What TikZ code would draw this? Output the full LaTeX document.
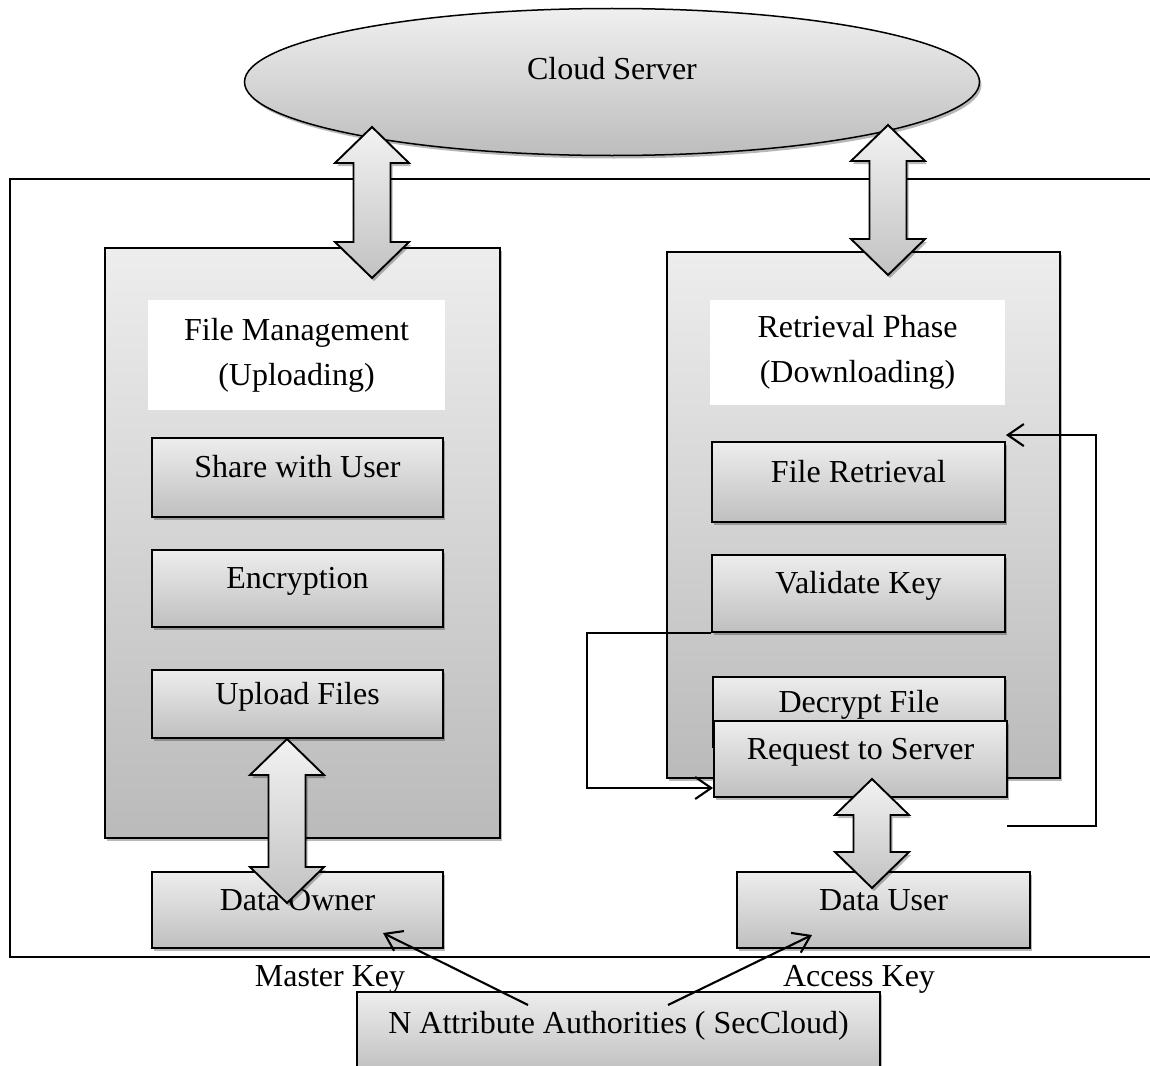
\documentclass[tikz,border=0pt]{standalone}
\usepackage{fontspec}
\setmainfont{Liberation Serif}
\usetikzlibrary{shadows,arrows.meta,shapes.geometric}
\tikzset{
  sh/.style={drop shadow={shadow xshift=2pt,shadow yshift=-3pt,opacity=0.28,fill=black}},
  bigbox/.style={draw=black, line width=1.9pt, top color=gray!14, bottom color=gray!54, sh, inner sep=0pt},
  box/.style={draw=black, line width=1.9pt, top color=gray!14, bottom color=gray!50, sh,
    text height=10pt, text depth=10pt, inner sep=0pt},
  wlabel/.style={fill=white, align=center, inner sep=0pt},
  dbl/.style={draw=black, line width=1.9pt, top color=gray!10, bottom color=gray!48, sh, line join=miter},
  conn/.style={draw=black, line width=2.1pt},
  barb/.style={-{Straight Barb[length=16pt,width=22pt]}},
  plain/.style={inner sep=0pt},
}
\newcommand{\dblarrShape}[3]{%
  \path[dbl] (#1,#2) -- (#1+37,#2+36) -- (#1+18.5,#2+36) -- (#1+18.5,#3-36) -- (#1+37,#3-36)
    -- (#1,#3) -- (#1-37,#3-36) -- (#1-18.5,#3-36) -- (#1-18.5,#2+36) -- (#1-37,#2+36) -- cycle;}
\begin{document}
\begin{tikzpicture}[x=1pt,y=-1pt,font=\fontsize{32pt}{45pt}\selectfont]
\useasboundingbox (0,0) rectangle (1150,1065);
\fill[white] (0,0) rectangle (1150,1065);

% outer frame
\draw[line width=2.4pt] (1175,179) -- (10,179) -- (10,957) -- (1175,957);

% cloud
\node[ellipse, draw=black, line width=1.5pt, minimum width=735pt, minimum height=147pt,
  top color=gray!12, bottom color=gray!52, sh] (cloud) at (612,82) {};
\node[plain] (cloudtxt) at (612,69) {Cloud Server};

% big boxes
\node[bigbox, minimum width=395pt, minimum height=590pt] (left) at (302.5,543) {};
\node[bigbox, minimum width=393pt, minimum height=526pt] (right) at (863.5,515) {};

\node[wlabel, minimum width=297pt, minimum height=110pt] (fm) at (296.5,355) {File Management\\(Uploading)};
\node[wlabel, minimum width=295pt, minimum height=105pt] (rp) at (857.5,352.5) {Retrieval Phase\\(Downloading)};

% left inner boxes
\node[box, minimum width=291pt, minimum height=79pt] (share) at (297.5,477.5) {Share with User};
\node[box, minimum width=291pt, minimum height=77pt] (enc) at (297.5,588.5) {Encryption};
\node[box, minimum width=291pt, minimum height=68pt] (upload) at (297.5,704) {Upload Files};

% right inner boxes
\node[box, minimum width=293pt, minimum height=80pt] (retr) at (858.5,482) {File Retrieval};
\node[box, minimum width=293pt, minimum height=77pt] (valid) at (858.5,593.5) {Validate Key};
\node[box, minimum width=292pt, minimum height=70pt] (decrypt) at (859,712) {Decrypt File};
\node[box, minimum width=293pt, minimum height=76pt] (request) at (860.5,759) {Request to Server};

% owner / user
\node[box, minimum width=291pt, minimum height=76pt] (owner) at (297.5,910) {Data Owner};
\node[box, minimum width=293pt, minimum height=76pt] (user) at (883.5,910) {Data User};

% authorities
\node[box, minimum width=523pt, minimum height=82pt] (auth) at (618.5,1033) {N Attribute Authorities ( SecCloud)};

\node[plain] (mklabel) at (330,979) {Master Key};
\node[plain] (aklabel) at (859,979) {Access Key};

% feedback connectors
\draw[conn, barb] (valid.south west) -- ++(-124,0) |- ([yshift=-29pt]request.west);
\coordinate (fbstart) at (1007,826);
\draw[conn, barb] (fbstart) -- ++(89,0) |- ([yshift=6pt]retr.north east);

% key connectors
\coordinate (mk) at (528,1005);
\coordinate (ak) at (668,1005);
\draw[conn, barb] (mk) -- ([xshift=85.5pt,yshift=-23pt]owner.center);
\draw[conn, barb] (ak) -- ([xshift=-71.5pt,yshift=-25pt]user.center);

% double arrows
\dblarrShape{372}{127}{278}
\dblarrShape{888}{125}{275}
\dblarrShape{287}{739}{903}
\dblarrShape{872}{779}{888}
\end{tikzpicture}
\end{document}
